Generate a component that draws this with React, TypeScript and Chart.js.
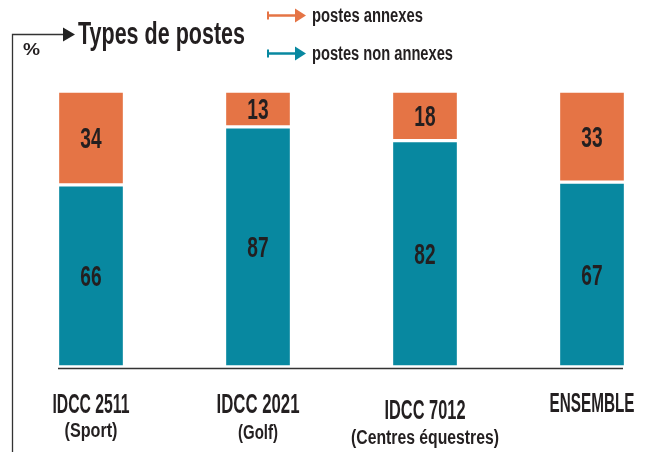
import React, { useEffect, useRef } from "react";
import { Chart, registerables } from "chart.js";

Chart.register(...registerables);

const categories = ["IDCC 2511", "IDCC 2021", "IDCC 7012", "ENSEMBLE"];
const subLabels = ["(Sport)", "(Golf)", "(Centres équestres)", ""];
const annexes = [34, 13, 18, 33];
const nonAnnexes = [66, 87, 82, 67];
const seriesNames = ["postes annexes", "postes non annexes"];
const title = "Types de postes";
const unitLabel = "%";

const ORANGE = "#E57445";
const TEAL = "#0888A0";
const INK = "#231F20";
const FONT = '"Liberation Sans", Arial, sans-serif';
const SX = 0.66; // horizontal compression to mimic the condensed face

// label layout (pixel widths/baselines)
const catWidths = [77, 83, 81, 85];
const catBase = [413, 413, 419, 412];
const subWidths = [53, 40, 148, 0];
const subBase = [437, 439, 444, 0];

function fitText(
  ctx: CanvasRenderingContext2D,
  text: string,
  x: number,
  y: number,
  size: number,
  align: "left" | "center",
  width?: number
) {
  ctx.save();
  ctx.font = `bold ${size}px ${FONT}`;
  ctx.textBaseline = "alphabetic";
  ctx.textAlign = "left";
  const w = ctx.measureText(text).width;
  const sx = width ? width / w : SX;
  const drawn = w * sx;
  const left = align === "center" ? x - drawn / 2 : x;
  ctx.translate(left, y);
  ctx.scale(sx, 1);
  ctx.fillStyle = INK;
  ctx.fillText(text, 0, 0);
  ctx.restore();
}

function arrow(ctx: CanvasRenderingContext2D, x0: number, x1: number, y: number, color: string) {
  ctx.save();
  ctx.strokeStyle = color;
  ctx.fillStyle = color;
  ctx.lineWidth = 2.5;
  ctx.beginPath();
  ctx.moveTo(x0, y);
  ctx.lineTo(x1 - 8, y);
  ctx.stroke();
  ctx.lineWidth = 2;
  ctx.beginPath();
  ctx.moveTo(x0 + 1, y - 4);
  ctx.lineTo(x0 + 1, y + 4);
  ctx.stroke();
  ctx.beginPath();
  ctx.moveTo(x1 - 11, y - 7);
  ctx.lineTo(x1, y);
  ctx.lineTo(x1 - 11, y + 7);
  ctx.closePath();
  ctx.fill();
  ctx.restore();
}

const decor = {
  id: "decor",
  afterDatasetsDraw(chart: any) {
    const ctx: CanvasRenderingContext2D = chart.ctx;
    ctx.save();
    ctx.strokeStyle = "#333";
    ctx.fillStyle = "#222";
    ctx.lineWidth = 1.3;
    ctx.beginPath();
    ctx.moveTo(12.5, 452);
    ctx.lineTo(12.5, 34.5);
    ctx.lineTo(65, 34.5);
    ctx.stroke();
    ctx.beginPath();
    ctx.moveTo(63, 27.5);
    ctx.lineTo(75, 34.5);
    ctx.lineTo(63, 41.5);
    ctx.closePath();
    ctx.fill();
    ctx.lineWidth = 1.6;
    ctx.beginPath();
    ctx.moveTo(58, 368.5);
    ctx.lineTo(623, 368.5);
    ctx.stroke();
    ctx.restore();

    fitText(ctx, title, 78, 44, 31, "left", 167);
    fitText(ctx, unitLabel, 23, 55, 17, "left", 17);

    arrow(ctx, 267, 306, 15.5, ORANGE);
    arrow(ctx, 267, 306, 53.5, TEAL);
    fitText(ctx, seriesNames[0], 312, 22, 20, "left", 111);
    fitText(ctx, seriesNames[1], 312, 60, 20, "left", 141);

    const xs = chart.scales.x;
    categories.forEach((c, i) => {
      const cx = xs.getPixelForValue(i);
      fitText(ctx, c, cx, catBase[i], 28, "center", catWidths[i]);
      if (subLabels[i]) fitText(ctx, subLabels[i], cx, subBase[i], 20, "center", subWidths[i]);
    });

    chart.data.datasets.forEach((ds: any, di: number) => {
      const meta = chart.getDatasetMeta(di);
      meta.data.forEach((bar: any, j: number) => {
        const cy = (bar.y + bar.base) / 2;
        fitText(ctx, String(ds.data[j]), bar.x, cy + 10, 29, "center");
      });
    });
  },
};

export default function App() {
  const ref = useRef<HTMLCanvasElement>(null);
  useEffect(() => {
    if (!ref.current) return;
    const chart = new Chart(ref.current, {
      type: "bar",
      data: {
        labels: categories,
        datasets: [
          {
            label: seriesNames[1],
            data: nonAnnexes,
            backgroundColor: TEAL,
            borderColor: "#ffffff",
            borderWidth: 2,
            borderSkipped: false,
            barThickness: 67,
            clip: false as any,
          },
          {
            label: seriesNames[0],
            data: annexes,
            backgroundColor: ORANGE,
            borderColor: "#ffffff",
            borderWidth: 2,
            borderSkipped: false,
            barThickness: 67,
            clip: false as any,
          },
        ],
      },
      options: {
        animation: false,
        responsive: false,
        devicePixelRatio: 1,
        layout: { padding: { left: 91, right: 59, top: 91, bottom: 85 } },
        plugins: { legend: { display: false }, tooltip: { enabled: false } },
        scales: {
          x: { stacked: true, offset: false, display: false },
          y: { stacked: true, min: 0, max: 100, display: false },
        },
      },
      plugins: [decor],
    });
    return () => chart.destroy();
  }, []);
  return (
    <div style={{ position: "fixed", left: 0, top: 0, width: 651, height: 452, background: "#fff" }}>
      <canvas ref={ref} width={651} height={452} style={{ width: 651, height: 452 }} />
    </div>
  );
}
